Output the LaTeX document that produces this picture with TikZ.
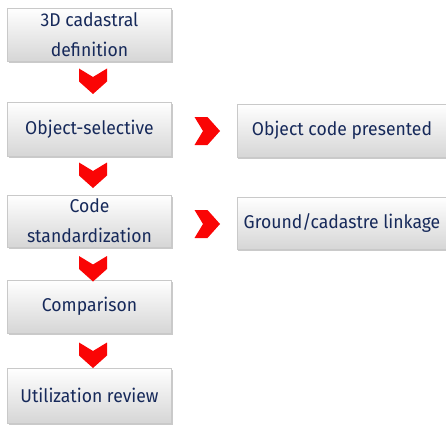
\documentclass[tikz,border=0pt]{standalone}
\usepackage{fontspec}
\setmainfont[FakeStretch=0.95]{Fira Sans}
\usetikzlibrary{shadows}
\definecolor{inknavy}{HTML}{16295A}
\definecolor{boxedge}{HTML}{C9C9C9}
\definecolor{boxlow}{HTML}{D6D6D6}
\definecolor{chevred}{HTML}{FA0505}
\tikzset{
  stepbox/.style={draw=boxedge, line width=0.4pt, top color=white, bottom color=boxlow,
    text=inknavy, align=center, inner sep=0pt,
    font=\fontsize{18.5}{22}\selectfont,
    drop shadow={shadow xshift=1.2pt, shadow yshift=-1.8pt, opacity=0.35, fill=black!60}},
  chevron/.pic={
    \fill[chevred]
      (-14,-12.5) -- (0,-4) -- (14,-12.5) -- (14,0.5) -- (0,13) -- (-14,0.5) -- cycle;
  }
}
\begin{document}
\begin{tikzpicture}[x=1pt, y=-1pt]
  \useasboundingbox (0,0) rectangle (446,425);
  % left column of steps
  \node[stepbox, minimum width=164pt, minimum height=53pt] (def) at (89.5,34.5) {3D cadastral\\[8pt]definition};
  \node[stepbox, minimum width=164pt, minimum height=54pt] (sel) at (89.5,129) {Object-selective};
  \node[stepbox, minimum width=164pt, minimum height=52pt] (std) at (89.5,221) {Code\\[8pt]standardization};
  \node[stepbox, minimum width=164pt, minimum height=53pt] (cmp) at (89.5,306.5) {Comparison};
  \node[stepbox, minimum width=164pt, minimum height=55pt] (use) at (89.5,395.5) {Utilization review};
  % right column of results
  \node[stepbox, minimum width=210pt, minimum height=53pt] (pres) at (342,130.5) {Object code presented};
  \node[stepbox, minimum width=210pt, minimum height=52pt] (link) at (342,223) {Ground/cadastre linkage};
  % chevron positions
  \coordinate (c1) at (93,81);
  \coordinate (c2) at (93,175);
  \coordinate (c3) at (93,268.5);
  \coordinate (c4) at (93,355);
  \coordinate (r1) at (207,131);
  \coordinate (r2) at (207,224);
  \pic at (c1) {chevron};
  \pic at (c2) {chevron};
  \pic at (c3) {chevron};
  \pic at (c4) {chevron};
  \pic[rotate=90] at (r1) {chevron};
  \pic[rotate=90] at (r2) {chevron};
\end{tikzpicture}
\end{document}
